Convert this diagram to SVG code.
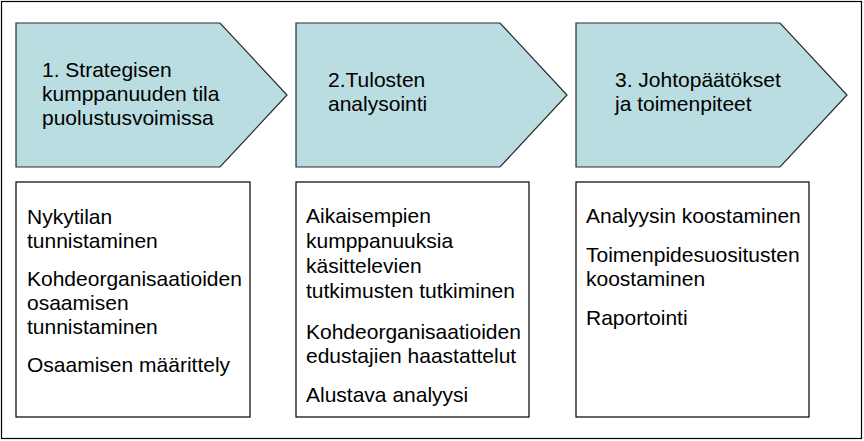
<svg xmlns="http://www.w3.org/2000/svg" width="864" height="441" viewBox="0 0 864 441">
<style>
.frame{fill:#fff;stroke:#000;stroke-width:1.2}
.arrow{fill:#B9DDE1;stroke:#2a2a2a;stroke-width:1.2}
.box{fill:#fff;stroke:#000;stroke-width:1.2}
text{font-family:"Liberation Sans",Arial,sans-serif;font-size:21px;fill:#000}
</style>
<rect class="frame" x="1.5" y="1.5" width="860" height="437"/>
<g id="step1">
<polygon class="arrow" points="16,23 220,23 287,95 220,167 16,167"/>
<text x="42" y="77">1. Strategisen</text>
<text x="42" y="101">kumppanuuden tila</text>
<text x="42" y="125">puolustusvoimissa</text>
</g>
<g id="step2">
<polygon class="arrow" points="296,23 500,23 567,95 500,167 296,167"/>
<text x="328" y="87">2.Tulosten</text>
<text x="328" y="111">analysointi</text>
</g>
<g id="step3">
<polygon class="arrow" points="576,23 780,23 847,95 780,167 576,167"/>
<text x="615" y="87">3. Johtopäätökset</text>
<text x="615" y="111">ja toimenpiteet</text>
</g>
<g id="tasks1">
<rect class="box" x="16" y="182" width="234" height="235"/>
<text x="27" y="224">Nykytilan</text>
<text x="27" y="248">tunnistaminen</text>
<text x="27" y="286">Kohdeorganisaatioiden</text>
<text x="27" y="310">osaamisen</text>
<text x="27" y="334">tunnistaminen</text>
<text x="27" y="372">Osaamisen määrittely</text>
</g>
<g id="tasks2">
<rect class="box" x="296" y="182" width="233" height="235"/>
<text x="306" y="223">Aikaisempien</text>
<text x="306" y="248">kumppanuuksia</text>
<text x="306" y="273">käsittelevien</text>
<text x="306" y="298">tutkimusten tutkiminen</text>
<text x="306" y="339">Kohdeorganisaatioiden</text>
<text x="306" y="363">edustajien haastattelut</text>
<text x="306" y="402">Alustava analyysi</text>
</g>
<g id="tasks3">
<rect class="box" x="576" y="182" width="233" height="235"/>
<text x="586" y="223">Analyysin koostaminen</text>
<text x="586" y="262">Toimenpidesuositusten</text>
<text x="586" y="286">koostaminen</text>
<text x="586" y="325">Raportointi</text>
</g>
<g id="connectors"/>
</svg>
